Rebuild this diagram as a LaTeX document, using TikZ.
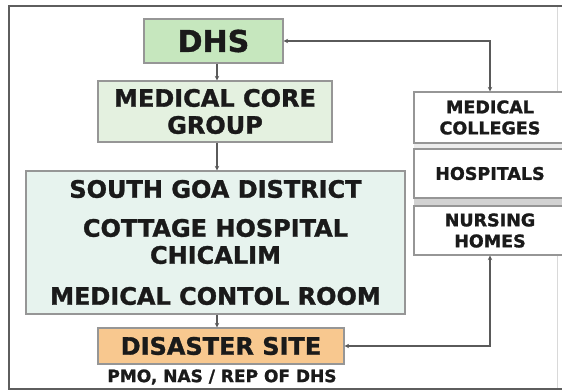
\documentclass[tikz,border=0pt]{standalone}
\usepackage{fontspec}
\setmainfont{DejaVu Sans}[BoldFeatures={FakeBold=1.3}]
\usetikzlibrary{arrows.meta}
\definecolor{framec}{HTML}{5E5E5E}
\definecolor{edgec}{HTML}{969696}
\definecolor{connc}{HTML}{5A5A5A}
\definecolor{dhsc}{HTML}{C6E7BE}
\definecolor{mcgc}{HTML}{E4F1E0}
\definecolor{sgc}{HTML}{E7F3EE}
\definecolor{disc}{HTML}{F8C88F}
\definecolor{txtc}{HTML}{1A1A1A}
\tikzset{
  box/.style={draw=edgec, line width=1.2pt, inner sep=0pt, align=center, text=txtc},
  rbox/.style={box, fill=white, minimum width=152pt},
  conn/.style={draw=connc, line width=1.1pt},
  tip/.style={arrows={-{Stealth[length=4.5pt,width=4.5pt]}}},
  tips/.style={arrows={{Stealth[length=4.5pt,width=4.5pt]}-{Stealth[length=4.5pt,width=4.5pt]}}},
  big/.style={font=\fontsize{24}{27}\selectfont\bfseries},
  small/.style={font=\fontsize{17.5}{21}\selectfont\bfseries}
}
\begin{document}
\begin{tikzpicture}[x=1pt,y=-1pt]
\useasboundingbox (0,0) rectangle (562,390);
\clip (0,0) rectangle (562,390);
\fill[white] (0,0) rectangle (562,390);
% frame
\draw[draw=gray!30, line width=1pt] (557,6) -- (557,389);
\draw[draw=framec, line width=2.5pt] (566,6) -- (9,6) -- (9,389) -- (566,389);
% left column
\node[box, fill=dhsc, minimum width=139pt, minimum height=44pt,
      font=\fontsize{30}{36}\selectfont\bfseries] (dhs) at (213.5,41) {DHS};
\node[box, fill=mcgc, minimum width=234pt, minimum height=61pt, big] (mcg) at (215,111.5)
  {MEDICAL CORE\\GROUP};
\node[box, fill=sgc, minimum width=379pt, minimum height=143pt, big] (sg) at (215.5,242.5)
  {SOUTH GOA DISTRICT\\[12pt]COTTAGE HOSPITAL\\CHICALIM\\[14pt]MEDICAL CONTOL ROOM};
\node[box, fill=disc, minimum width=246pt, minimum height=36pt, big] (dis) at (221,346)
  {DISASTER SITE};
\node[text=txtc, inner sep=0pt, font=\fontsize{17}{20}\selectfont\bfseries] (pmo) at (222,377)
  {PMO, NAS / REP OF DHS};
% right column
\fill[gray!14] (414,143) rectangle (566,149);
\fill[gray!35] (414,198) rectangle (566,206);
\node[rbox, minimum height=51pt, small] (medcol) at (490,117.5) {MEDICAL\\COLLEGES};
\node[rbox, minimum height=49pt, small] (hosp) at (490,173.5) {HOSPITALS};
\node[rbox, minimum height=49pt, small] (nurs) at (490,230.5) {NURSING\\HOMES};
% connectors
\coordinate (ax) at (217,0);
\draw[conn, tip] (dhs.south -| ax) -- (mcg.north -| ax);
\draw[conn, tip] (mcg.south -| ax) -- (sg.north -| ax);
\draw[conn, tip] (sg.south -| ax) -- (dis.north -| ax);
\draw[conn, tips] (dhs.east) -- (dhs.east -| medcol.north) -- (medcol.north);
\draw[conn, tips] (dis.east) -- (dis.east -| nurs.south) -- (nurs.south);
\end{tikzpicture}
\end{document}
